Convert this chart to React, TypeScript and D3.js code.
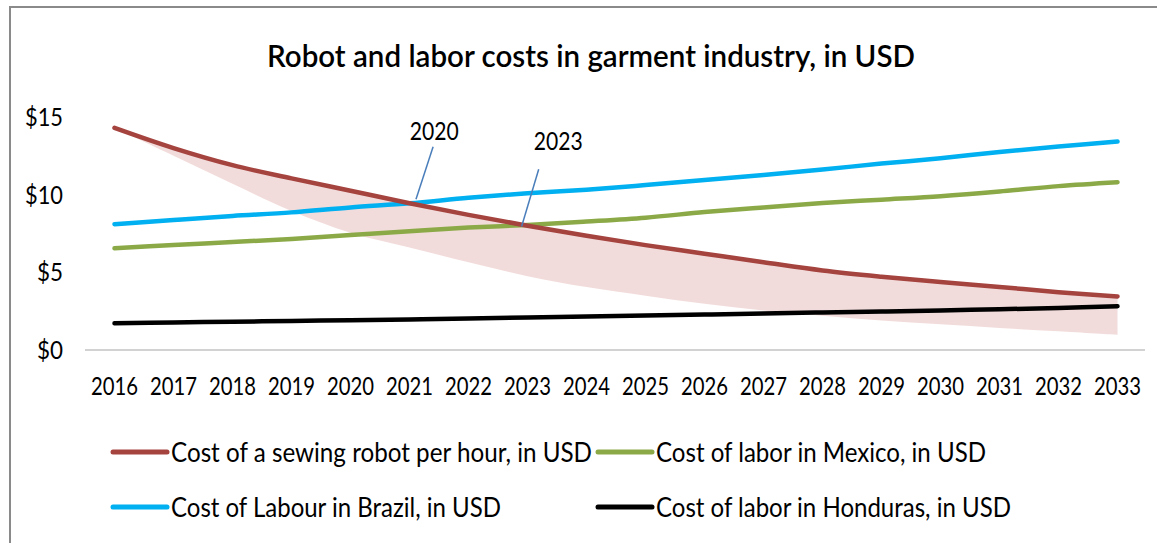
import React from "react";
import * as d3 from "d3";

const years = [2016, 2017, 2018, 2019, 2020, 2021, 2022, 2023, 2024, 2025, 2026, 2027, 2028, 2029, 2030, 2031, 2032, 2033];
const robotCost = [14.3, 13.0, 11.9, 11.05, 10.25, 9.45, 8.7, 8.0, 7.35, 6.75, 6.2, 5.65, 5.12, 4.72, 4.38, 4.06, 3.72, 3.45];
const robotLow = [14.3, 12.5, 10.7, 8.95, 7.55, 6.6, 5.65, 4.75, 4.05, 3.5, 2.98, 2.55, 2.2, 1.9, 1.65, 1.42, 1.2, 0.97];
const mexicoCost = [6.55, 6.76, 6.95, 7.15, 7.4, 7.65, 7.88, 8.05, 8.27, 8.52, 8.88, 9.18, 9.46, 9.68, 9.9, 10.2, 10.55, 10.8];
const brazilCost = [8.1, 8.37, 8.63, 8.86, 9.18, 9.44, 9.8, 10.09, 10.32, 10.62, 10.95, 11.27, 11.62, 12.0, 12.34, 12.75, 13.1, 13.42];
const hondurasCost = [1.72, 1.77, 1.82, 1.87, 1.92, 1.97, 2.03, 2.09, 2.16, 2.22, 2.28, 2.35, 2.42, 2.48, 2.55, 2.62, 2.71, 2.82];
const yTicks = [0, 5, 10, 15];

const seriesNames = [
  "Cost of a sewing robot per hour, in USD",
  "Cost of labor in Mexico, in USD",
  "Cost of Labour in Brazil, in USD",
  "Cost of labor in Honduras, in USD",
];
const seriesColors = ["#A5433F", "#8BAA47", "#00B0F0", "#000000"];
const seriesData = [robotCost, mexicoCost, brazilCost, hondurasCost];
const drawOrder = [2, 1, 0, 3];

// annotations: [label, anchor year, anchor value, top year, top value, text year, text value]
const annotations: [string, number, number, number, number, number, number][] = [
  ["2020", 2021.11, 9.7, 2021.4, 13.09, 2021.42, 13.55],
  ["2023", 2022.9, 7.95, 2023.19, 11.64, 2023.52, 12.85],
];

const FONT = "Lato, 'Open Sans', sans-serif";

export default function App() {
  const W = 1157, H = 543;
  const x = d3.scaleBand<number>().domain(years).range([85, 1147]).padding(0);
  const xc = (yr: number) => (x(yr) as number) + x.bandwidth() / 2;
  const xl = d3.scaleLinear().domain([years[0], years[years.length - 1]]).range([xc(years[0]), xc(years[years.length - 1])]);
  const y = d3.scaleLinear().domain([0, 15]).range([350, 117]);

  const line = d3.line<number>()
    .x((_, i) => xc(years[i]))
    .y((d) => y(d))
    .curve(d3.curveCatmullRom.alpha(0.5));

  const area = d3.area<number>()
    .x((_, i) => xc(years[i]))
    .y0((_, i) => y(robotLow[i]))
    .y1((d) => y(d))
    .curve(d3.curveCatmullRom.alpha(0.5));

  const legendItems = [
    { i: 0, lx: 113, ly: 452, tl: 421 },
    { i: 1, lx: 598, ly: 452, tl: 330 },
    { i: 2, lx: 113, ly: 507, tl: 330 },
    { i: 3, lx: 598, ly: 507, tl: 355 },
  ];

  return (
    <svg width={W} height={H} style={{ position: "absolute", left: 0, top: 0, background: "#fff" }}>
      <rect x={0} y={0} width={W} height={H} fill="#fff" />
      <rect x={10} y={7} width={W + 20} height={H + 20} fill="none" stroke="#8a8a8a" strokeWidth={2} />
      <text x={591} y={67} textAnchor="middle" fontFamily={FONT} fontSize={31} fontWeight={600}
        textLength={648} lengthAdjust="spacingAndGlyphs" fill="#000">
        Robot and labor costs in garment industry, in USD
      </text>

      {yTicks.map((t) => (
        <text key={t} x={63} y={y(t) + 9} textAnchor="end" fontFamily={FONT} fontSize={25} fill="#000"
          textLength={t >= 10 ? 38 : 26} lengthAdjust="spacingAndGlyphs">
          {"$" + t}
        </text>
      ))}

      <line x1={85} x2={1145} y1={y(0)} y2={y(0)} stroke="#a6a6a6" strokeWidth={1.2} />

      {years.map((yr) => (
        <text key={yr} x={xc(yr)} y={395} textAnchor="middle" fontFamily={FONT} fontSize={25} fill="#000"
          textLength={47} lengthAdjust="spacingAndGlyphs">
          {yr}
        </text>
      ))}

      <path d={area(robotCost) || ""} fill="#F2DCDB" />

      {drawOrder.map((si) => (
        <path key={si} d={line(seriesData[si]) || ""} fill="none" stroke={seriesColors[si]}
          strokeWidth={4.5} strokeLinecap="round" strokeLinejoin="round" />
      ))}

      {annotations.map(([label, ax, av, tx, tv, lx, lv]) => (
        <g key={label}>
          <line x1={xl(ax)} y1={y(av)} x2={xl(tx)} y2={y(tv)} stroke="#4A7EBB" strokeWidth={1.5} />
          <text x={xl(lx)} y={y(lv)} textAnchor="middle" fontFamily={FONT} fontSize={25} fill="#000"
            textLength={49} lengthAdjust="spacingAndGlyphs">
            {label}
          </text>
        </g>
      ))}

      {legendItems.map(({ i, lx, ly, tl }) => (
        <g key={i}>
          <line x1={lx} x2={lx + 54} y1={ly} y2={ly} stroke={seriesColors[i]} strokeWidth={5} strokeLinecap="round" />
          <text x={lx + 58} y={ly + 10} fontFamily={FONT} fontSize={26} fill="#000"
            textLength={tl} lengthAdjust="spacingAndGlyphs">
            {seriesNames[i]}
          </text>
        </g>
      ))}
    </svg>
  );
}
